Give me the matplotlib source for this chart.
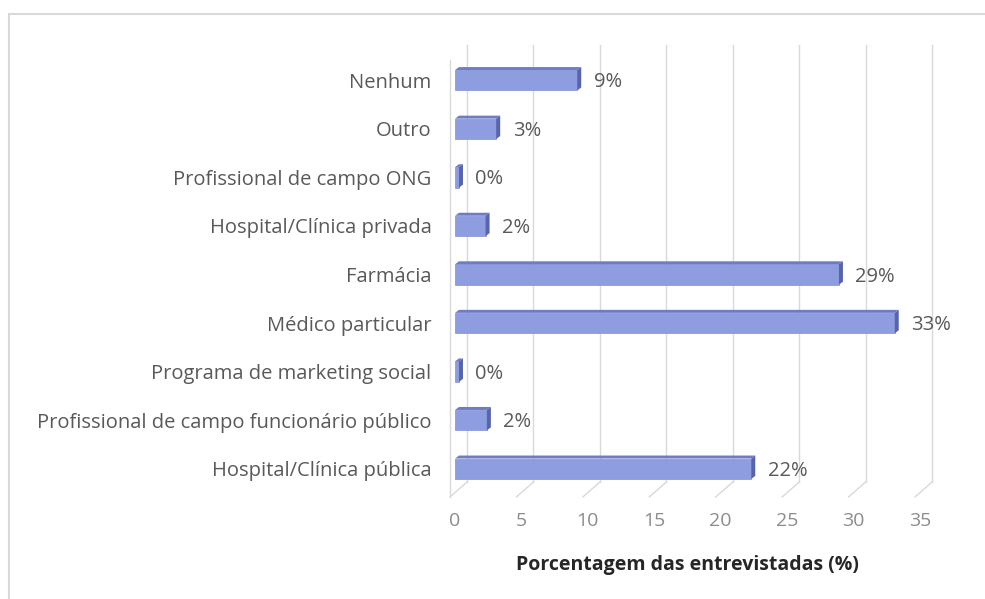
import matplotlib.pyplot as plt
import matplotlib.transforms as mtransforms
from matplotlib.patches import Polygon, Rectangle
import numpy as np

plt.rcParams["font.family"] = ["Open Sans", "DejaVu Sans"]

# bottom-to-top order as drawn
categories = [
    "Hospital/Clínica pública",
    "Profissional de campo funcionário público",
    "Programa de marketing social",
    "Médico particular",
    "Farmácia",
    "Hospital/Clínica privada",
    "Profissional de campo ONG",
    "Outro",
    "Nenhum",
]
values = [22.3, 2.4, 0.3, 33.1, 28.9, 2.3, 0.3, 3.1, 9.2]
labels = ["22%", "2%", "0%", "33%", "29%", "2%", "0%", "3%", "9%"]
xticks = [0, 5, 10, 15, 20, 25, 30, 35]

W, H = 985, 599
fig = plt.figure(figsize=(W / 100, H / 100), dpi=100)
ax = fig.add_axes([455 / W, 1 - 493 / H, 465 / W, 437 / H])
ax.set_xlim(0, 35)
ax.set_ylim(-0.5, len(categories) - 0.5)

front = "#8E9CE0"
top_c = "#6E7CC6"
side_c = "#5864AC"

# px -> data units
ux = 465 / 35.0
uy = 437 / 9.0
dxp, dyp = 4, 3
dx, dy = dxp / ux, dyp / uy

y = np.arange(len(categories))
h = 0.42
ax.barh(y, values, height=h, color=front, edgecolor="#8090D8", linewidth=0.5, zorder=3)
for yi, v in zip(y, values):
    t = yi + h / 2
    ax.add_patch(Polygon([(0, t), (v, t), (v + dx, t + dy), (dx, t + dy)],
                         closed=True, color=top_c, lw=0, zorder=3))
    b = yi - h / 2
    ax.add_patch(Polygon([(v, b), (v, t), (v + dx, t + dy), (v + dx, b + dy)],
                         closed=True, color=side_c, lw=0, zorder=3))

for yi, v, lab in zip(y, values, labels):
    ax.annotate(lab, (v + dx, yi), xytext=(9, -1.5), textcoords="offset points",
                ha="left", va="center", fontsize=14.5, color="#595959")

# 3D-like gridlines: back wall lines and floor diagonals
gc = "#D9D9D9"
xt = ax.get_xaxis_transform()
back = xt + mtransforms.ScaledTranslation(12 / 100, 0, fig.dpi_scale_trans)
frontt = xt + mtransforms.ScaledTranslation(-5 / 100, 0, fig.dpi_scale_trans)
inv = fig.transFigure.inverted()
for xv in xticks:
    ax.plot([xv, xv], [0.025, 1.025], color=gc, lw=1, transform=back,
            clip_on=False, zorder=1)
    a = inv.transform(back.transform((xv, 0.025)))
    b2 = inv.transform(frontt.transform((xv, -0.009)))
    fig.add_artist(plt.Line2D([a[0], b2[0]], [a[1], b2[1]], color=gc, lw=1,
                              transform=fig.transFigure, zorder=1))
# left wall front edge
ax.plot([0, 0], [-0.009, 0.99], color=gc, lw=1, transform=frontt, clip_on=False, zorder=1)

ax.set_yticks(y)
ax.set_yticklabels(categories, fontsize=14.5, color="#595959")
ax.set_xticks(xticks)
ax.set_xticklabels([str(v) for v in xticks], fontsize=14, color="#8C8C8C")
ax.tick_params(axis="y", length=0, pad=17)
ax.tick_params(axis="x", length=0, pad=14)
for s in ax.spines.values():
    s.set_visible(False)
ax.set_xlabel("Porcentagem das entrevistadas (%)", fontsize=14, fontweight="bold",
              color="#262626", labelpad=18)

fig.add_artist(Rectangle((9 / W, -0.05), 1.1, 1 - 14 / H + 0.05, transform=fig.transFigure,
                         fill=False, edgecolor="#D9D9D9", lw=1.5))

fig.savefig("out.png", dpi=100)
